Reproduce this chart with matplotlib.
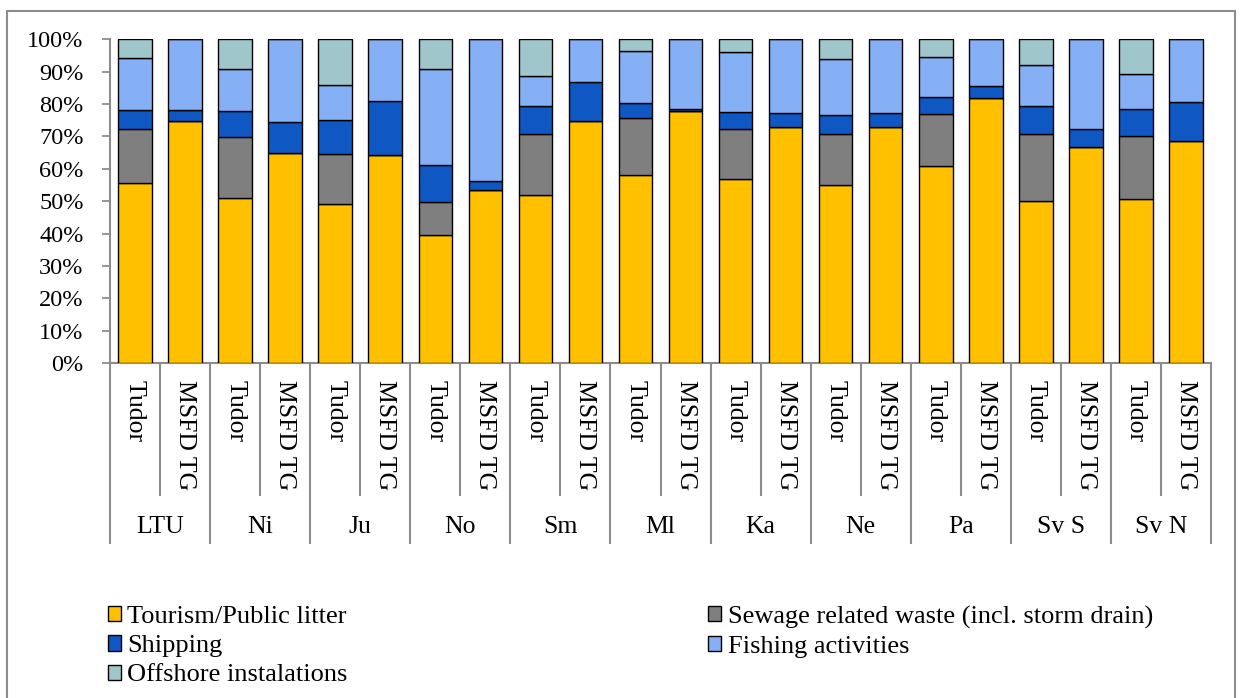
import numpy as np
import matplotlib
matplotlib.use("Agg")
import matplotlib.pyplot as plt
from matplotlib.patches import Rectangle
import matplotlib.transforms as mtransforms

plt.rcParams['font.family'] = ['Liberation Serif', 'DejaVu Serif']

# groups (sites) and the two methods in each
groups = ["LTU", "Ni", "Ju", "No", "Sm", "Ml", "Ka", "Ne", "Pa", "Sv S", "Sv N"]
methods = ["Tudor", "MSFD TG"]

# shares in %, one value per bar (Tudor, MSFD TG for each group)
tourism  = [55.7, 74.8, 51.0, 64.9, 49.1, 64.3, 39.4, 53.3, 51.9, 74.9, 58.0,
            78.0, 56.8, 73.0, 54.9, 73.0, 61.0, 81.9, 50.0, 66.7, 50.7, 68.5]
sewage   = [16.5, 0.0, 18.7, 0.0, 15.4, 0.0, 10.2, 0.0, 18.7, 0.0, 17.6,
            0.0, 15.5, 0.0, 15.7, 0.0, 15.8, 0.0, 20.7, 0.0, 19.4, 0.0]
shipping = [5.9, 3.3, 8.2, 9.4, 10.5, 16.5, 11.6, 3.0, 8.7, 11.8, 4.6,
            0.4, 5.2, 4.3, 5.9, 4.3, 5.4, 3.8, 8.8, 5.7, 8.4, 12.2]
fishing  = [16.1, 21.9, 12.9, 25.7, 10.8, 19.2, 29.5, 43.7, 9.4, 13.3, 16.3,
            21.6, 18.6, 22.7, 17.4, 22.7, 12.2, 14.3, 12.7, 27.6, 10.9, 19.3]
offshore = [5.8, 0.0, 9.2, 0.0, 14.2, 0.0, 9.3, 0.0, 11.3, 0.0, 3.5,
            0.0, 3.9, 0.0, 6.1, 0.0, 5.6, 0.0, 7.8, 0.0, 10.6, 0.0]

series_names = ["Tourism/Public litter", "Sewage related waste (incl. storm drain)",
                "Shipping", "Fishing activities", "Offshore instalations"]
colors = ["#FFC000", "#7F7F7F", "#0F57C2", "#86B0F6", "#9FC6CB"]

W, H = 1243, 698
fig = plt.figure(figsize=(W / 100, H / 100), dpi=100)
ax = fig.add_axes([110 / W, 1 - 363 / H, (1211 - 110) / W, (363 - 39.3) / H])

x = np.arange(len(tourism))
data = [tourism, sewage, shipping, fishing, offshore]
bottom = np.zeros(len(x))
handles = []
for vals, name, c in zip(data, series_names, colors):
    vals = np.array(vals)
    b = ax.bar(x, vals, width=0.67, bottom=bottom, color=c, edgecolor="black",
               linewidth=1.0, label=name, zorder=3)
    handles.append(b)
    bottom += vals

ax.set_ylim(0, 100)
ax.set_xlim(-0.5, len(x) - 0.5)
ax.set_yticks(np.arange(0, 101, 10))
ax.set_yticklabels([f"{v}%" for v in range(0, 101, 10)], fontsize=17.5)
ax.tick_params(axis="y", length=6, width=1.3, color="#8C8C8C", pad=13)

# lower level labels (method), rotated
ax.set_xticks(x)
ax.set_xticklabels(methods * len(groups), rotation=270, fontsize=18.5,
                   va="top", ha="center")
ax.tick_params(axis="x", length=0, pad=12)

for s in ["top", "right"]:
    ax.spines[s].set_visible(False)
for s in ["left", "bottom"]:
    ax.spines[s].set_color("#8C8C8C")
    ax.spines[s].set_linewidth(1.5)

# separators below the axis
trans = mtransforms.blended_transform_factory(ax.transData, ax.transAxes)
for i in range(len(x) + 1):
    xb = i - 0.5
    y_end = -0.556 if i % 2 == 0 else -0.408
    ax.plot([xb, xb], [0, y_end], color="#8C8C8C", lw=1.5, transform=trans,
            clip_on=False)

# group labels
for g, name in enumerate(groups):
    ax.text(2 * g + 0.5, -0.507, name, transform=trans, ha="center", va="center",
            fontsize=18.5)

# legend, row order like the original
order = [0, 2, 4, 1, 3]
leg = fig.legend([handles[i] for i in order], [series_names[i] for i in order],
                 loc="upper left", bbox_to_anchor=(97 / W, 1 - 595 / H), ncol=2,
                 frameon=False, fontsize=19, handlelength=0.5, handleheight=0.5,
                 handletextpad=0.25, labelspacing=0.27, columnspacing=13.65,
                 borderaxespad=0)

# border round the figure
fig.patches.append(Rectangle((7 / W, -0.01), (1235 - 7) / W, 1 - 11 / H + 0.01,
                             transform=fig.transFigure, fill=False,
                             edgecolor="#8C8C8C", lw=1.5))

plt.savefig("out.png", dpi=100)
